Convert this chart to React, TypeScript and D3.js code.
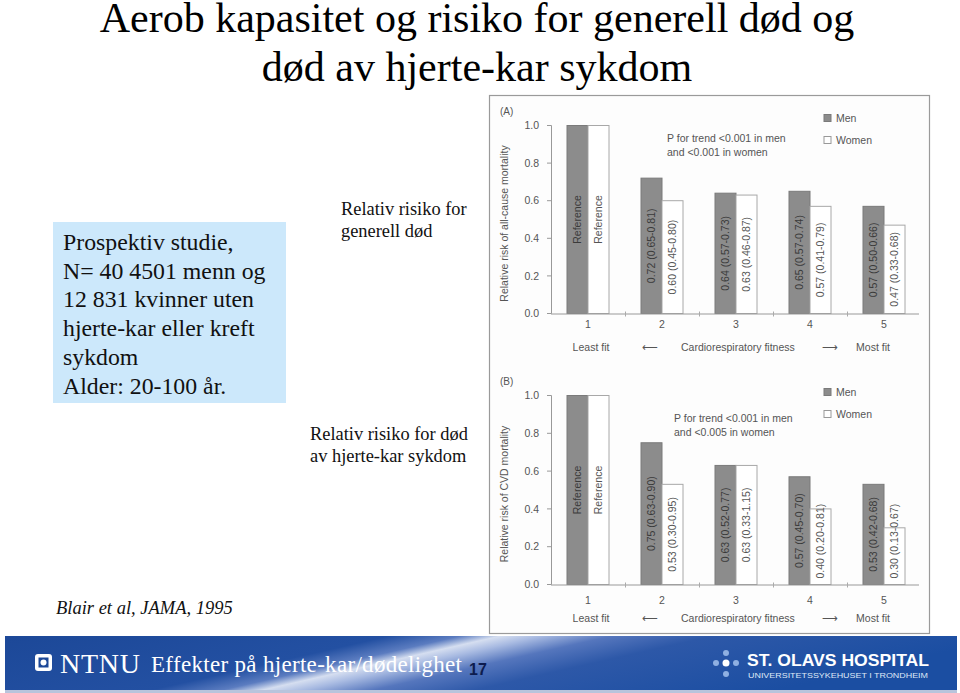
import React, { useEffect, useRef } from "react";
import * as d3 from "d3";

const groups = ["1", "2", "3", "4", "5"];
const series = ["Men", "Women"];
const yTicks = [0, 0.2, 0.4, 0.6, 0.8, 1.0];

const menAll = [1.0, 0.72, 0.64, 0.65, 0.57];
const womenAll = [1.0, 0.6, 0.63, 0.57, 0.47];
const menAllLabels = ["Reference", "0.72 (0.65-0.81)", "0.64 (0.57-0.73)", "0.65 (0.57-0.74)", "0.57 (0.50-0.66)"];
const womenAllLabels = ["Reference", "0.60 (0.45-0.80)", "0.63 (0.46-0.87)", "0.57 (0.41-0.79)", "0.47 (0.33-0.68)"];

const menCvd = [1.0, 0.75, 0.63, 0.57, 0.53];
const womenCvd = [1.0, 0.53, 0.63, 0.4, 0.3];
const menCvdLabels = ["Reference", "0.75 (0.63-0.90)", "0.63 (0.52-0.77)", "0.57 (0.45-0.70)", "0.53 (0.42-0.68)"];
const womenCvdLabels = ["Reference", "0.53 (0.30-0.95)", "0.63 (0.33-1.15)", "0.40 (0.20-0.81)", "0.30 (0.13-0.67)"];

const titleLines = ["Aerob kapasitet og risiko for generell død og", "død av hjerte-kar sykdom"];
const boxLines = ["Prospektiv studie,", "N= 40 4501 menn og", "12 831 kvinner uten", "hjerte-kar eller kreft", "sykdom", "Alder: 20-100 år."];

const FONT = "'Liberation Sans', Arial, sans-serif";
const SERIF = "'Liberation Serif', 'Times New Roman', serif";

type PanelCfg = {
  tag: string;
  yTop: number;
  yBase: number;
  ylabel: string;
  men: number[];
  women: number[];
  menLabels: string[];
  womenLabels: string[];
  trend: string[];
  trendY: number;
  trendX: number;
  legendY: number;
  numY: number;
  fitY: number;
};

const panels: PanelCfg[] = [
  {
    tag: "(A)", yTop: 125.5, yBase: 313.5, ylabel: "Relative risk of all-cause mortality",
    men: menAll, women: womenAll, menLabels: menAllLabels, womenLabels: womenAllLabels,
    trend: ["P for trend <0.001 in men", "and <0.001 in women"], trendY: 142, trendX: 667,
    legendY: 118, numY: 328, fitY: 351,
  },
  {
    tag: "(B)", yTop: 395.5, yBase: 584.5, ylabel: "Relative risk of CVD mortality",
    men: menCvd, women: womenCvd, menLabels: menCvdLabels, womenLabels: womenCvdLabels,
    trend: ["P for trend <0.001 in men", "and <0.005 in women"], trendY: 422, trendX: 674,
    legendY: 392, numY: 604, fitY: 622,
  },
];

export default function App() {
  const ref = useRef<SVGSVGElement | null>(null);

  useEffect(() => {
    const svg = d3.select(ref.current);
    svg.selectAll("*").remove();

    const defs = svg.append("defs");
    const grad = defs.append("linearGradient").attr("id", "foot").attr("x1", "0").attr("x2", "1").attr("y1", "0").attr("y2", "0.25");
    [
      [0, "#1c4898"], [0.38, "#2350a2"], [0.45, "#5b7cc0"], [0.49, "#d5def0"], [0.53, "#a9bbe2"],
      [0.6, "#5576bd"], [0.7, "#2d58a8"], [1, "#1b4ea2"],
    ].forEach(([o, c]) => grad.append("stop").attr("offset", o as number).attr("stop-color", c as string));

    svg.append("rect").attr("width", 960).attr("height", 693).attr("fill", "#ffffff");

    // Title
    titleLines.forEach((t, i) => {
      svg.append("text").attr("x", 477).attr("y", 32 + i * 49).attr("text-anchor", "middle")
        .attr("font-family", SERIF).attr("font-size", 42).attr("fill", "#000").text(t);
    });

    // Blue box
    svg.append("rect").attr("x", 53).attr("y", 222).attr("width", 233).attr("height", 181).attr("fill", "#cce8fb");
    boxLines.forEach((t, i) => {
      svg.append("text").attr("x", 63).attr("y", 250 + i * 28.7).attr("font-family", SERIF)
        .attr("font-size", 23.8).attr("fill", "#111").text(t);
    });

    const side = [
      { x: 341, y: 215, lines: ["Relativ risiko for", "generell død"] },
      { x: 310, y: 440, lines: ["Relativ risiko for død", "av hjerte-kar sykdom"] },
    ];
    side.forEach((s) => s.lines.forEach((t, i) => {
      svg.append("text").attr("x", s.x).attr("y", s.y + i * 22).attr("font-family", SERIF)
        .attr("font-size", 18.4).attr("fill", "#111").text(t);
    }));

    svg.append("text").attr("x", 56).attr("y", 614).attr("font-family", SERIF).attr("font-style", "italic")
      .attr("font-size", 18.5).attr("fill", "#111").text("Blair et al, JAMA, 1995");

    // Chart frame
    svg.append("rect").attr("x", 489.5).attr("y", 95.5).attr("width", 440).attr("height", 538)
      .attr("fill", "#fdfdfd").attr("stroke", "#9a9a9a").attr("stroke-width", 1.2);

    const x0 = d3.scaleBand<string>().domain(groups).range([551, 921]).padding(0);
    const x1 = d3.scaleBand<string>().domain(series).range([16, 58]).padding(0);

    panels.forEach((p) => {
      const g = svg.append("g");
      const y = d3.scaleLinear().domain([0, 1]).range([p.yBase, p.yTop]);

      // y axis
      g.append("line").attr("x1", 551.5).attr("x2", 551.5).attr("y1", y(1)).attr("y2", y(0)).attr("stroke", "#999");
      yTicks.forEach((t) => {
        g.append("line").attr("x1", 547).attr("x2", 551.5).attr("y1", y(t)).attr("y2", y(t)).attr("stroke", "#999");
        g.append("text").attr("x", 539).attr("y", y(t)).attr("dy", "0.35em").attr("text-anchor", "end")
          .attr("font-family", FONT).attr("font-size", 10.5).attr("fill", "#555").text(t.toFixed(1));
      });
      g.append("text").attr("transform", `translate(508,${(y(0) + y(1)) / 2 + 4}) rotate(-90)`)
        .attr("text-anchor", "middle").attr("font-family", FONT).attr("font-size", 10.5).attr("fill", "#555").text(p.ylabel);
      g.append("text").attr("x", 500).attr("y", p.yTop - 11).attr("font-family", FONT).attr("font-size", 10)
        .attr("fill", "#555").text(p.tag);

      // bars
      groups.forEach((grp, i) => {
        const vals = [p.men[i], p.women[i]];
        const labs = [p.menLabels[i], p.womenLabels[i]];
        series.forEach((s, j) => {
          const bx = (x0(grp) as number) + (x1(s) as number);
          const bw = x1.bandwidth();
          g.append("rect").attr("x", bx).attr("y", y(vals[j])).attr("width", bw).attr("height", y(0) - y(vals[j]))
            .attr("fill", j === 0 ? "#8c8c8c" : "#ffffff").attr("stroke", j === 0 ? "#7a7a7a" : "#a8a8a8").attr("stroke-width", 1);
          const txt = g.append("text").attr("font-family", FONT).attr("font-size", 10.5)
            .attr("fill", j === 0 ? "#3a3a3a" : "#555").attr("text-anchor", "middle").attr("dy", "0.35em").text(labs[j]);
          const len = (txt.node() as SVGTextElement).getComputedTextLength();
          let cy = (y(vals[j]) + y(0)) / 2;
          if (cy + len / 2 > y(0) - 6) cy = y(0) - 6 - len / 2;
          txt.attr("transform", `translate(${bx + bw / 2},${cy}) rotate(-90)`);
        });
      });

      // x axis
      g.append("line").attr("x1", 551).attr("x2", 919).attr("y1", y(0) + 0.5).attr("y2", y(0) + 0.5).attr("stroke", "#999");
      groups.slice(1).forEach((grp) => {
        const tx = (x0(grp) as number) + 0.5;
        g.append("line").attr("x1", tx).attr("x2", tx).attr("y1", y(0) - 2).attr("y2", y(0) + 3).attr("stroke", "#aaa");
      });
      groups.forEach((grp) => {
        g.append("text").attr("x", (x0(grp) as number) + x0.bandwidth() / 2).attr("y", p.numY).attr("text-anchor", "middle")
          .attr("font-family", FONT).attr("font-size", 10.5).attr("fill", "#555").text(grp);
      });
      const fitItems = [
        { x: 591, t: "Least fit", a: "middle" },
        { x: 650, t: "⟵", a: "middle" },
        { x: 681, t: "Cardiorespiratory fitness", a: "start" },
        { x: 830, t: "⟶", a: "middle" },
        { x: 873, t: "Most fit", a: "middle" },
      ];
      fitItems.forEach((f) => {
        g.append("text").attr("x", f.x).attr("y", p.fitY).attr("text-anchor", f.a).attr("font-family", FONT)
          .attr("font-size", 10.5).attr("fill", "#555").text(f.t);
      });

      // trend text
      p.trend.forEach((t, i) => {
        g.append("text").attr("x", p.trendX).attr("y", p.trendY + i * 14).attr("font-family", FONT)
          .attr("font-size", 10.5).attr("fill", "#555").text(t);
      });

      // legend
      series.forEach((s, j) => {
        const ly = p.legendY + j * 22;
        g.append("rect").attr("x", 824).attr("y", ly - 3.5).attr("width", 7).attr("height", 7)
          .attr("fill", j === 0 ? "#8c8c8c" : "#fff").attr("stroke", j === 0 ? "#7a7a7a" : "#999");
        g.append("text").attr("x", 836).attr("y", ly).attr("dy", "0.35em").attr("font-family", FONT)
          .attr("font-size", 10.5).attr("fill", "#555").text(s);
      });
    });

    // Footer
    svg.append("rect").attr("x", 5).attr("y", 636).attr("width", 952).attr("height", 54).attr("fill", "url(#foot)");
    svg.append("rect").attr("x", 5).attr("y", 690).attr("width", 952).attr("height", 3).attr("fill", "#b8c4dc");

    svg.append("rect").attr("x", 35).attr("y", 654).attr("width", 17).attr("height", 17).attr("rx", 3).attr("fill", "#fff");
    svg.append("rect").attr("x", 38.5).attr("y", 657.5).attr("width", 10).attr("height", 10).attr("fill", "#1c4898");
    svg.append("circle").attr("cx", 43.5).attr("cy", 662.5).attr("r", 3).attr("fill", "#fff");
    svg.append("text").attr("x", 60).attr("y", 673).attr("font-family", SERIF).attr("font-size", 28)
      .attr("fill", "#fff").attr("textLength", 80).text("NTNU");
    svg.append("text").attr("x", 151).attr("y", 672).attr("font-family", SERIF).attr("font-size", 23)
      .attr("fill", "#fff").attr("textLength", 311).text("Effekter på hjerte-kar/dødelighet");
    svg.append("text").attr("x", 469).attr("y", 675).attr("font-family", FONT).attr("font-weight", "bold")
      .attr("font-size", 16).attr("fill", "#0d1c4e").text("17");

    const dots = [
      [726, 653, "#8fb0e2", 3], [716, 663, "#8fb0e2", 3], [726, 663, "#ffffff", 3.5], [736, 663, "#8fb0e2", 3], [726, 674, "#8fb0e2", 3],
    ];
    dots.forEach(([cx, cy, c, r]) => svg.append("circle").attr("cx", cx as number).attr("cy", cy as number).attr("r", r as number).attr("fill", c as string));
    svg.append("text").attr("x", 747).attr("y", 666).attr("font-family", FONT).attr("font-weight", "bold")
      .attr("font-size", 17).attr("fill", "#fff").attr("textLength", 182).attr("lengthAdjust", "spacingAndGlyphs").text("ST. OLAVS HOSPITAL");
    svg.append("text").attr("x", 748).attr("y", 678).attr("font-family", FONT).attr("font-size", 7.5)
      .attr("fill", "#dfe8f7").attr("textLength", 180).attr("lengthAdjust", "spacingAndGlyphs").text("UNIVERSITETSSYKEHUSET I TRONDHEIM");
  }, []);

  return (
    <div style={{ position: "absolute", left: 0, top: 0 }}>
      <svg ref={ref} width={960} height={693} style={{ display: "block" }} />
    </div>
  );
}
